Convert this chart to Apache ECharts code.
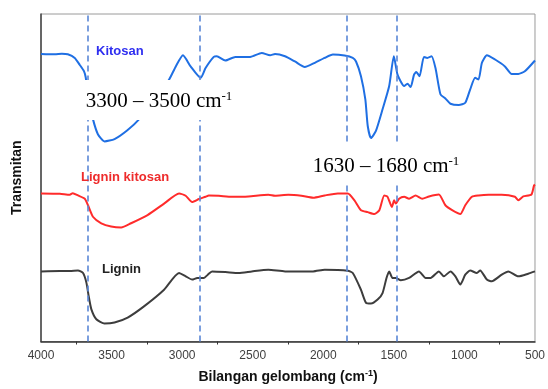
<!DOCTYPE html>
<html>
<head>
<meta charset="utf-8">
<script src="https://cdn.jsdelivr.net/npm/echarts@6/dist/echarts.min.js"></script>
<style>
  html, body { margin: 0; padding: 0; background: #fff; }
  #chart { width: 548px; height: 389px; }
</style>
</head>
<body>
<div id="chart"></div>
<script>
// wavenumber (cm-1) and relative transmittance
const kitosanWn = [4000, 3902, 3852, 3810, 3761, 3726, 3695, 3683, 3662, 3632, 3597, 3550, 3479, 3388, 3304, 3198, 3092, 3045, 2994, 2940, 2869, 2834, 2776, 2755, 2694, 2623, 2518, 2436, 2377, 2342, 2271, 2201, 2131, 2060, 1990, 1932, 1849, 1791, 1768, 1733, 1702, 1685, 1662, 1627, 1580, 1533, 1500, 1474, 1427, 1404, 1381, 1357, 1341, 1318, 1287, 1263, 1233, 1205, 1170, 1135, 1099, 1040, 994, 959, 924, 900, 876, 841, 783, 713, 665, 618, 572, 500];
const kitosanT = [87.8, 87.7, 87.9, 87.7, 86.6, 84.5, 82.5, 80.6, 73.9, 67.9, 63.3, 61.1, 61.8, 64.5, 67.9, 73.9, 80.0, 84.0, 87.4, 84.0, 80.5, 83.5, 86.9, 87.1, 85.8, 86.9, 86.9, 88.1, 87.4, 87.8, 87.1, 85.5, 83.8, 85.1, 86.6, 87.6, 87.3, 86.6, 85.5, 81.0, 73.9, 65.8, 62.1, 64.3, 70.9, 78.0, 87.1, 81.5, 78.0, 78.7, 77.7, 81.5, 82.3, 81.0, 86.9, 86.6, 87.1, 83.5, 75.5, 74.2, 72.6, 72.2, 72.9, 77.0, 80.5, 80.0, 85.1, 87.4, 86.1, 84.0, 81.7, 81.7, 82.5, 85.8];

const ligKitWn = [4000, 3866, 3796, 3775, 3738, 3690, 3667, 3632, 3573, 3503, 3432, 3362, 3245, 3128, 3022, 2975, 2929, 2881, 2834, 2811, 2741, 2647, 2530, 2389, 2342, 2248, 2155, 2072, 1990, 1897, 1826, 1779, 1733, 1685, 1638, 1603, 1568, 1545, 1514, 1498, 1486, 1463, 1427, 1392, 1346, 1299, 1251, 1181, 1135, 1087, 1029, 994, 947, 900, 829, 736, 642, 618, 583, 525, 507, 500];
const ligKitT = [45.2, 45.1, 44.8, 45.3, 44.6, 43.6, 41.6, 38.1, 36.1, 35.1, 34.8, 36.1, 38.6, 42.1, 45.2, 44.5, 42.6, 43.5, 44.2, 44.6, 44.5, 44.2, 44.3, 44.8, 44.5, 44.8, 44.5, 43.9, 44.6, 45.2, 45.2, 43.1, 40.1, 39.5, 38.9, 40.1, 44.6, 44.2, 41.1, 43.1, 42.1, 43.6, 44.2, 43.6, 44.6, 43.6, 44.3, 44.9, 41.6, 40.1, 38.9, 41.6, 44.2, 44.6, 44.8, 44.8, 44.2, 43.1, 44.3, 44.9, 47.6, 47.9];

const ligninWn = [4000, 3866, 3796, 3738, 3702, 3678, 3662, 3643, 3608, 3550, 3479, 3386, 3268, 3128, 3022, 2975, 2929, 2893, 2846, 2818, 2788, 2694, 2600, 2506, 2389, 2271, 2155, 2072, 1990, 1826, 1791, 1733, 1697, 1662, 1615, 1580, 1552, 1533, 1510, 1486, 1451, 1392, 1322, 1275, 1240, 1181, 1146, 1099, 1064, 1029, 994, 959, 912, 888, 841, 806, 736, 689, 618, 548, 500];
const ligninT = [21.4, 21.5, 21.5, 21.7, 20.9, 17.9, 13.8, 9.8, 6.8, 5.5, 5.8, 7.3, 10.8, 15.8, 20.9, 19.9, 18.9, 19.4, 19.4, 20.4, 21.4, 21.2, 20.9, 21.4, 21.9, 21.4, 21.4, 21.4, 21.9, 21.6, 20.9, 15.8, 11.8, 11.6, 12.8, 14.8, 19.4, 21.4, 19.4, 19.4, 18.7, 19.4, 21.4, 19.4, 19.4, 21.4, 19.9, 21.4, 19.9, 17.4, 20.4, 21.7, 20.9, 21.7, 18.9, 18.4, 20.4, 21.4, 19.9, 20.7, 21.4];

// marked bands (dashed guide lines)
const bandLines = [3670, 2875, 1833, 1481];
const xTicks = [4000, 3500, 3000, 2500, 2000, 1500, 1000, 500];

const zip = (xs, ys) => xs.map((x, i) => [x, ys[i]]);

const chart = echarts.init(document.getElementById('chart'));

const serifLabel = (x, y, main) => ([
  {
    type: 'rect', z: 100,
    shape: { x: x - 74, y: y - 21, width: 148, height: 40 },
    style: { fill: '#fff' }
  },
  {
    type: 'text', z: 101, x: x, y: y,
    style: {
      text: '{m|' + main + '}{s|-1}',
      align: 'center', verticalAlign: 'middle',
      rich: {
        m: { fontFamily: 'Liberation Serif', fontSize: 21, fill: '#000', color: '#000' },
        s: { fontFamily: 'Liberation Serif', fontSize: 13, fill: '#000', color: '#000', verticalAlign: 'top', padding: [0, 0, 8, 0] }
      }
    }
  }
]);

const option = {
  animation: false,
  backgroundColor: '#fff',
  grid: {
    left: 41, right: 10, top: 14, bottom: 45,
    show: true, borderColor: '#9a9a9a', borderWidth: 1
  },
  xAxis: {
    type: 'value',
    min: 500, max: 4000, interval: 500,
    inverse: true,
    axisLine: { show: true, onZero: false, lineStyle: { color: '#333', width: 1.5 } },
    axisTick: { show: false },
    minorTick: { show: true, splitNumber: 2, length: 3, lineStyle: { color: '#333', width: 1 } },
    splitLine: { show: false },
    axisLabel: {
      margin: 8,
      fontFamily: 'Liberation Sans, Arial', fontSize: 12, color: '#404040',
      formatter: v => xTicks.includes(v) ? String(v) : ''
    },
    name: '{b|Bilangan gelombang (cm}{s|-1}{b|)}',
    nameLocation: 'middle',
    nameGap: 28,
    nameTextStyle: {
      rich: {
        b: { fontFamily: 'Liberation Sans, Arial', fontSize: 14, fontWeight: 'bold', color: '#111' },
        s: { fontFamily: 'Liberation Sans, Arial', fontSize: 9, fontWeight: 'bold', color: '#111', verticalAlign: 'top', padding: [0, 0, 6, 0] }
      }
    }
  },
  yAxis: {
    type: 'value',
    min: 0, max: 100,
    axisLine: { show: true, lineStyle: { color: '#444', width: 1.5 } },
    axisTick: { show: false },
    axisLabel: { show: false },
    splitLine: { show: false },
    name: 'Transmitan',
    nameLocation: 'middle',
    nameGap: 17,
    nameTextStyle: { fontFamily: 'Liberation Sans, Arial', fontSize: 14, fontWeight: 'bold', color: '#111' }
  },
  series: [
    {
      name: 'Kitosan', type: 'line', showSymbol: false, z: 3, smooth: 0.2,
      data: zip(kitosanWn, kitosanT),
      lineStyle: { color: '#1f6fe3', width: 2 },
      markLine: {
        silent: true, symbol: ['none', 'none'],
        label: { show: false },
        lineStyle: { color: '#5a87d6', width: 1.6, type: [6, 4] },
        data: bandLines.map(v => ({ xAxis: v }))
      }
    },
    {
      name: 'Lignin kitosan', type: 'line', showSymbol: false, z: 3, smooth: 0.2,
      data: zip(ligKitWn, ligKitT),
      lineStyle: { color: '#ff2b2b', width: 2 }
    },
    {
      name: 'Lignin', type: 'line', showSymbol: false, z: 3, smooth: 0.2,
      data: zip(ligninWn, ligninT),
      lineStyle: { color: '#3d3d3d', width: 2 }
    }
  ],
  graphic: [
    ...serifLabel(159, 101, '3300 – 3500 cm'),
    ...serifLabel(386, 166, '1630 – 1680 cm'),
    {
      type: 'text', z: 101, x: 96, y: 51,
      style: { text: 'Kitosan', fill: '#2f2ff0', font: 'bold 13px "Liberation Sans", Arial', verticalAlign: 'middle' }
    },
    {
      type: 'text', z: 101, x: 81, y: 177,
      style: { text: 'Lignin kitosan', fill: '#ee2b2b', font: 'bold 13px "Liberation Sans", Arial', verticalAlign: 'middle' }
    },
    {
      type: 'text', z: 101, x: 102, y: 269,
      style: { text: 'Lignin', fill: '#222', font: 'bold 13px "Liberation Sans", Arial', verticalAlign: 'middle' }
    }
  ]
};

chart.setOption(option);
</script>
</body>
</html>
